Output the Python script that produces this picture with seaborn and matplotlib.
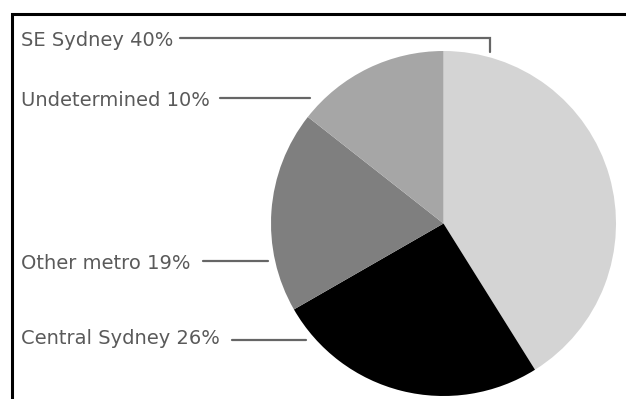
import matplotlib
matplotlib.use("Agg")
import matplotlib.pyplot as plt
import seaborn as sns

# ---- data ----
categories = ["SE Sydney", "Central Sydney", "Other metro", "Undetermined"]
label_pct = [40, 26, 19, 10]            # percentages printed in the labels
slice_values = [41.1, 25.6, 18.9, 14.4]  # slice sizes as drawn
slice_colors = ["#d4d4d4", "#000000", "#7f7f7f", "#a6a6a6"]

sns.set_theme(style="white")
plt.rcParams["font.family"] = ["DejaVu Sans"]

W, H = 626, 399
fig = plt.figure(figsize=(W / 100, H / 100), dpi=100)
ax = fig.add_axes([0, 0, 1, 1])


def fy(y):
    """pixel row (from top) -> data y"""
    return H - y


palette = sns.color_palette(slice_colors)
ax.pie(slice_values, colors=palette, startangle=90, counterclock=False,
       center=(443.5, fy(223.5)), radius=172.5,
       wedgeprops=dict(linewidth=0, edgecolor="none"))

ax.set_xlim(0, W)
ax.set_ylim(0, H)
ax.set_aspect("auto")
ax.axis("off")

# frame (left and top)
ax.plot([12, 12, W], [fy(H), fy(13.5), fy(13.5)], color="black", lw=2.2,
        solid_joinstyle="miter", clip_on=False)

text_color = "#5a5a5a"
line_color = "#666666"
fs = 14

# label baselines and leader lines
label_base = {"SE Sydney": 46.5, "Undetermined": 106, "Other metro": 269, "Central Sydney": 344}
leaders = {
    "SE Sydney": ([180, 489.5, 489.5], [38, 38, 52]),
    "Undetermined": ([220, 310], [97.5, 97.5]),
    "Other metro": ([203, 268], [261, 261]),
    "Central Sydney": ([232, 306], [339.5, 339.5]),
}
for cat, pct in zip(categories, label_pct):
    ax.text(21, fy(label_base[cat]), f"{cat} {pct}%", fontsize=fs, color=text_color,
            va="baseline", ha="left")
    xs, ys = leaders[cat]
    ax.plot(xs, [fy(v) for v in ys], color=line_color, lw=1.6,
            solid_joinstyle="miter")

fig.savefig("out.png", dpi=100)
